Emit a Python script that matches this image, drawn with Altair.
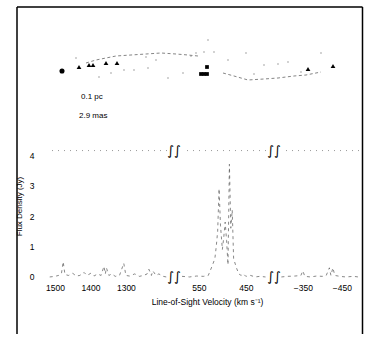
import altair as alt
import pandas as pd

# ---------------- Top panel: maser disk image (relative sky offsets) -------------
arc_up_x = [-120, -110, -100, -90, -75, -60, -45, -30, -18, -8]
arc_up_y = [7, 10, 12, 14, 15, 16, 17, 16, 15, 14]
arc_lo_x = [17, 28, 42, 58, 72, 88, 100, 115]
arc_lo_y = [-3, -6, -10, -9, -8, -6, -5, -2]
spot_x = [2, -10, 8, 40, 115, 82, 72, 58, 22, -107, -95, -82, -72, -58, -38, -23, 48, 95, -60, -130, -50, -2, -15]
spot_y = [30, 17, 18, 17, 17, 8, 6, 5, 10, -7, -3, 0, 0, 2, -8, -3, -4, -2, 13, 12, 10, 18, 14]
hv_x = [-127, -117, -113, -100, -89, 102, 127]
hv_y = [3, 5, 5, 7, 7, 1, 4]
sys_x = [1, -5, -2, 1]
sys_y = [3, -4, -4, -4]
ref_x = [-144]
ref_y = [-1]
scale_labels = ["0.1 pc", "2.9 mas"]
scale_lx = [-125, -127]
scale_ly = [-27, -46]

# ---------------- Bottom panel: spectrum (velocity km/s, flux Jy) ---------------
red_v = [1515, 1500, 1490, 1482, 1477, 1472, 1462, 1450, 1440, 1430, 1418, 1410, 1399,
         1390, 1380, 1370, 1362, 1358, 1355, 1348, 1340, 1330, 1318, 1306, 1300, 1290,
         1275, 1262, 1250, 1240, 1235, 1228, 1224, 1215, 1207, 1195, 1186]
red_f = [0.0, 0.02, 0.05, 0.1, 0.5, 0.08, 0.05, 0.12, 0.03, 0.05, 0.15, 0.05, 0.12,
         0.03, 0.1, 0.05, 0.35, 0.1, 0.3, 0.05, 0.1, 0.02, 0.05, 0.45, 0.05, 0.03,
         0.1, 0.02, 0.05, 0.1, 0.25, 0.05, 0.2, 0.05, 0.1, 0.02, 0.0]
sys_v = [586, 570, 555, 540, 530, 522, 516, 513, 510, 507, 504, 500, 497, 494, 491,
         488, 485, 482, 479, 476, 470, 465, 460, 455, 450, 440, 430, 420, 408]
sys_f = [0.02, 0.0, 0.03, 0.02, 0.05, 0.35, 0.6, 1.0, 1.5, 2.9, 1.7, 0.9, 1.3, 1.8, 1.2,
         0.4, 3.7, 1.6, 2.2, 0.6, 0.3, 0.1, 0.05, 0.1, 0.02, 0.05, 0.0, 0.02, 0.0]
blue_v = [-295, -310, -330, -345, -350, -355, -370, -385, -400, -410, -418, -422, -427,
          -432, -445, -460, -480, -492]
blue_f = [0.0, 0.02, 0.03, 0.05, 0.2, 0.02, 0.0, 0.03, 0.02, 0.05, 0.3, 0.05, 0.3,
          0.05, 0.02, 0.0, 0.02, 0.0]

red_ticks = [1500, 1400, 1300]
sys_ticks = [550, 450]
blue_ticks = [-350, -450]
y_ticks = [0, 1, 2, 3, 4]

FONT = "Liberation Sans"

# ---------------- top panel ----------------
XT = alt.X("x:Q", scale=alt.Scale(domain=[-157, 153], nice=False, zero=False), axis=None)
YT = alt.Y("y:Q", scale=alt.Scale(domain=[-65, 60], nice=False, zero=False), axis=None)

up = alt.Chart(pd.DataFrame({"x": arc_up_x, "y": arc_up_y})).mark_line(
    color="#666", strokeWidth=0.8, strokeDash=[3, 2.5]).encode(x=XT, y=YT)
lo = alt.Chart(pd.DataFrame({"x": arc_lo_x, "y": arc_lo_y})).mark_line(
    color="#666", strokeWidth=0.8, strokeDash=[3, 2.5]).encode(x=XT, y=YT)
spots = alt.Chart(pd.DataFrame({"x": spot_x, "y": spot_y})).mark_point(
    filled=True, color="#888", size=2, shape="square").encode(x=XT, y=YT)
hv = alt.Chart(pd.DataFrame({"x": hv_x, "y": hv_y})).mark_point(
    filled=True, color="black", size=22, shape="triangle-up", opacity=1).encode(x=XT, y=YT)
sysm = alt.Chart(pd.DataFrame({"x": sys_x, "y": sys_y})).mark_point(
    filled=True, color="black", size=14, shape="square", opacity=1).encode(x=XT, y=YT)
refm = alt.Chart(pd.DataFrame({"x": ref_x, "y": ref_y})).mark_point(
    filled=True, color="black", size=26, shape="circle", opacity=1).encode(x=XT, y=YT)
lbl = alt.Chart(pd.DataFrame({"x": scale_lx, "y": scale_ly, "t": scale_labels})).mark_text(
    align="left", baseline="middle", fontSize=8, font=FONT, color="black").encode(x=XT, y=YT, text="t:N")

one = pd.DataFrame({"a": [0]})
fr_top = alt.Chart(one).mark_rule(color="black", strokeWidth=1.5).encode(
    x=alt.value(-32), x2=alt.value(313.5), y=alt.value(-3))
fr_left = alt.Chart(one).mark_rule(color="black", strokeWidth=1.5).encode(
    x=alt.value(-32), y=alt.value(-3), y2=alt.value(324))
fr_right = alt.Chart(one).mark_rule(color="black", strokeWidth=1.5).encode(
    x=alt.value(313.5), y=alt.value(-3), y2=alt.value(324))

top = alt.layer(fr_top, fr_left, fr_right, up, lo, spots, hv, sysm, refm, lbl).properties(
    width=310, height=125)

# ---------------- spectrum panels ----------------
YS = alt.Scale(domain=[-0.1, 4.3], nice=False, zero=False)


def segment(v, f, domain, width, ticks, yaxis, xtitle, breaks):
    df = pd.DataFrame({"v": v, "f": f})
    xkw = dict(values=ticks, ticks=False, domain=False, grid=False, labelPadding=3,
               labelFontSize=8.5, labelFont=FONT, labelColor="black", format="d")
    if xtitle:
        xkw.update(title=xtitle, titleX=25, titleY=17, titleAlign="center",
                   titleBaseline="top", titleFontSize=8.5, titleFont=FONT,
                   titleFontWeight="normal")
    else:
        xkw.update(title="")
    xaxis = alt.Axis(**xkw)
    XS = alt.Scale(domain=domain, nice=False, zero=False)
    if yaxis:
        ya = alt.Axis(values=y_ticks, ticks=False, domain=False, grid=False, labelPadding=15,
                      labelFontSize=8.5, labelFont=FONT, labelColor="black",
                      title="Flux Density (Jy)", titlePadding=6, titleFontSize=8,
                      titleY=60, titleAlign="center",
                      titleFont=FONT, titleFontWeight="normal")
    else:
        ya = None
    line = alt.Chart(df).mark_line(color="#555", strokeWidth=0.7, strokeDash=[3, 3.5]).encode(
        x=alt.X("v:Q", scale=XS, axis=xaxis),
        y=alt.Y("f:Q", scale=YS, axis=ya))
    toprule = alt.Chart(pd.DataFrame({"f": [4.15]})).mark_rule(
        color="#999", strokeWidth=1, strokeDash=[1, 5]).encode(y=alt.Y("f:Q", scale=YS, axis=ya))
    layers = [line, toprule]
    if breaks:
        bdf = pd.DataFrame({"f": [4.15, 0.0], "s": ["\u222b\u222b", "\u222b\u222b"]})
        for xv in (-8, width + 8):
            layers.append(alt.Chart(bdf).mark_text(fontSize=13, font="DejaVu Sans",
                                                   color="#000000", baseline="middle").encode(
                x=alt.value(xv), y=alt.Y("f:Q", scale=YS, axis=ya), text="s:N"))
    return alt.layer(*layers).properties(width=width, height=134)


seg1 = segment(red_v, red_f, [1517, 1184], 118, red_ticks, True, None, False)
seg2 = segment(sys_v, sys_f, [586, 407], 84, sys_ticks, False,
               "Line-of-Sight Velocity (km s\u207b\u00b9)", True)
seg3 = segment(blue_v, blue_f, [-294, -494], 78, blue_ticks, False, None, False)

bottom = alt.hconcat(seg1, seg2, seg3, spacing=15, bounds="flush")

chart = alt.vconcat(top, bottom, spacing=11, bounds="flush").properties(
    padding={"left": 15, "top": 6, "right": 2, "bottom": 0},
    background="white",
).configure_view(stroke=None).configure_axis(labelFont=FONT, titleFont=FONT)

chart.save("out.html", embed_options={"renderer": "svg", "actions": False})
